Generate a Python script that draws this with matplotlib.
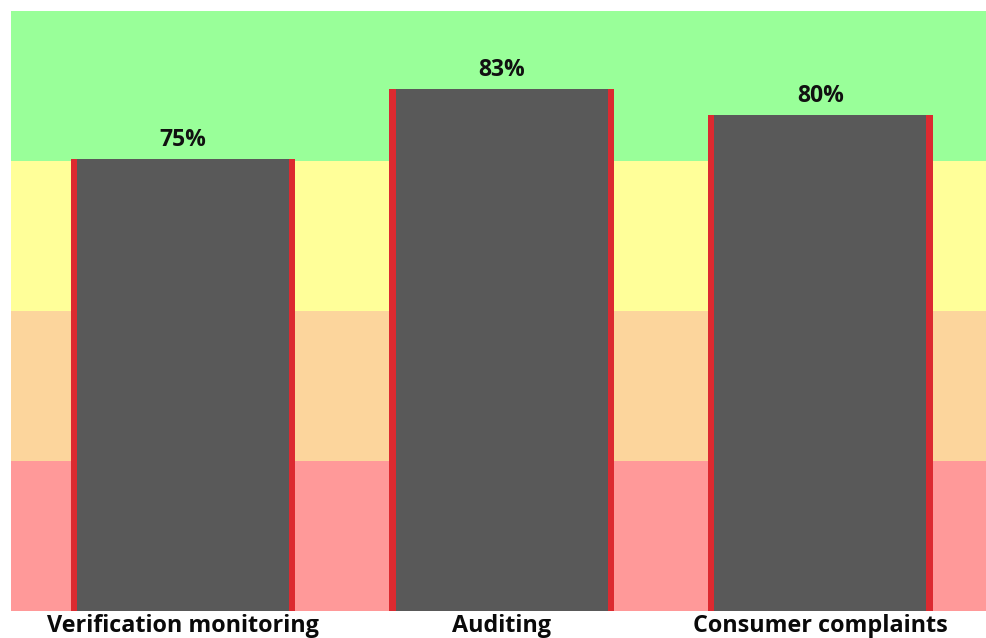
import matplotlib
matplotlib.use("Agg")
import matplotlib.pyplot as plt

categories = ["Verification monitoring", "Auditing", "Consumer complaints"]
values = [75, 83, 80]
value_labels = ["75%", "83%", "80%"]

band_colors = ["#FF9999", "#FCD59C", "#FFFF99", "#99FF99"]  # bottom to top

fig = plt.figure(figsize=(9.86, 6.38), dpi=100)
ax = fig.add_axes([11/986, 27/638, 975/986, 600/638])

# background bands, each a quarter of the plot height
for i, c in enumerate(band_colors):
    ax.add_patch(plt.Rectangle((0, i * 0.25), 1, 0.25, transform=ax.transAxes,
                               facecolor=c, edgecolor="none", zorder=0))

x = list(range(len(categories)))
ax.bar(x, values, width=0.705, color="#DC2A30", zorder=2)
ax.bar(x, values, width=0.665, color="#595959", zorder=3)

for xi, v, lab in zip(x, values, value_labels):
    ax.annotate(lab, (xi, v), xytext=(0, 5), textcoords="offset points",
                ha="center", va="bottom", fontsize=16.5, fontweight="bold",
                family=["Open Sans", "DejaVu Sans"], color="#111111", zorder=4)

ax.set_xlim(-0.54, 2.52)
ax.set_ylim(23, 92)
ax.set_xticks(x)
ax.set_xticklabels(categories, fontsize=16.8, fontweight="bold",
                   family=["Open Sans", "DejaVu Sans"], color="#0a0a0a")
ax.tick_params(axis="x", length=0, pad=2)
ax.set_yticks([])
for s in ax.spines.values():
    s.set_visible(False)

fig.savefig("out.png", dpi=100)
